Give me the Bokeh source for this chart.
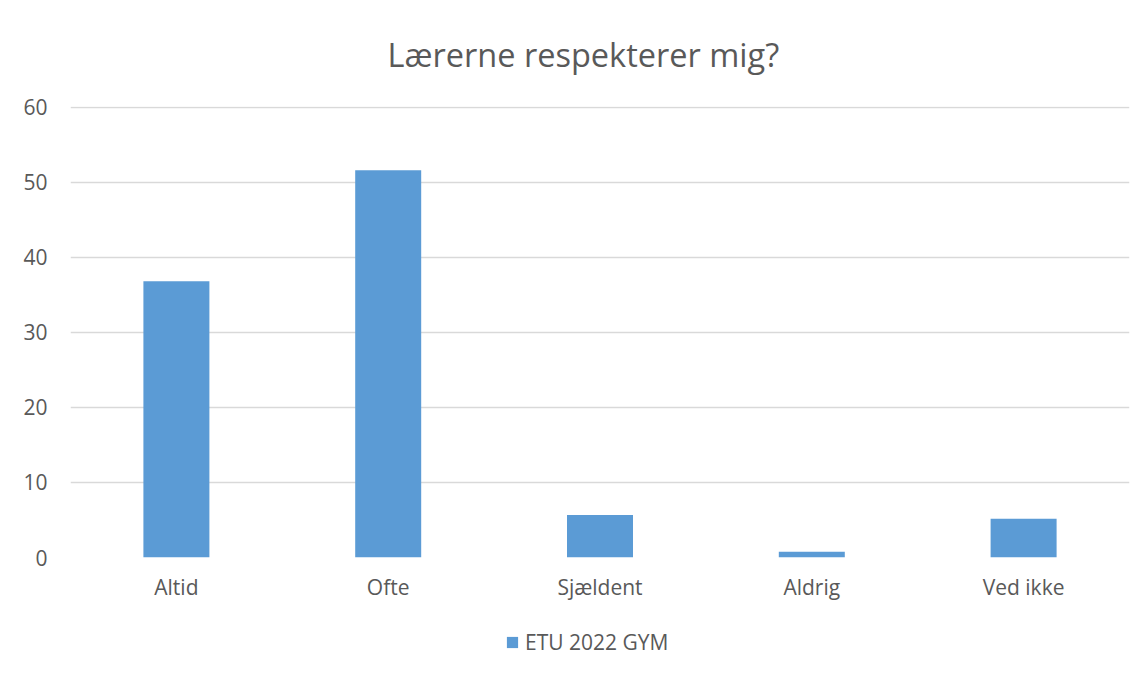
from bokeh.plotting import figure
from bokeh.layouts import column
from bokeh.models import (FactorRange, Range1d, Legend, LegendItem,
                          ColumnDataSource, FixedTicker)
from bokeh.embed import file_html
from bokeh.resources import INLINE

categories = ["Altid", "Ofte", "Sjældent", "Aldrig", "Ved ikke"]
values = [36.8, 51.6, 5.65, 0.75, 5.15]
series_name = "ETU 2022 GYM"
title_text = "Lærerne respekterer mig?"
y_ticks = [0, 10, 20, 30, 40, 50, 60]

TEXT = "#595959"
FONT = "Open Sans"
BAR = "#5B9BD5"
W = 1138

src = ColumnDataSource(dict(cat=categories, val=values))

p = figure(width=W, height=620,
           x_range=FactorRange(factors=categories, range_padding=0),
           y_range=Range1d(0, 60.1),
           output_backend="svg", toolbar_location=None,
           min_border_left=70, min_border_right=9,
           min_border_top=106, min_border_bottom=63)

p.title.text = title_text
p.title.align = "left"
p.title.offset = 317
p.title.vertical_align = "middle"
p.title.text_font = FONT
p.title.text_font_size = "32.5px"
p.title.text_font_style = "normal"
p.title.text_color = TEXT
p.title.standoff = 58

r = p.vbar(x="cat", top="val", width=0.3116, source=src,
           fill_color=BAR, line_color=None)

p.outline_line_color = None
p.background_fill_color = "white"
p.border_fill_color = "white"
p.xgrid.grid_line_color = None
p.ygrid.grid_line_color = "#d9d9d9"
p.ygrid.grid_line_width = 1.5
p.ygrid.ticker = FixedTicker(ticks=y_ticks)

p.yaxis.ticker = FixedTicker(ticks=y_ticks)
p.yaxis.axis_line_color = None
p.yaxis.major_tick_line_color = None
p.yaxis.minor_tick_line_color = None
p.yaxis.major_label_standoff = 17
p.yaxis.major_label_text_font = FONT
p.yaxis.major_label_text_font_size = "21px"
p.yaxis.major_label_text_color = TEXT

p.xaxis.axis_line_color = None
p.xaxis.major_tick_line_color = None
p.xaxis.minor_tick_line_color = None
p.xaxis.major_label_standoff = 9
p.xaxis.major_label_text_font = FONT
p.xaxis.major_label_text_font_size = "21px"
p.xaxis.major_label_text_color = TEXT

# legend strip below the chart (its series lies outside its visible range;
# only the legend entry is seen)
lf = figure(width=W, height=47,
            x_range=FactorRange(factors=categories, range_padding=0),
            y_range=Range1d(1000, 1001),
            output_backend="svg", toolbar_location=None,
            x_axis_type=None, y_axis_type=None, min_border=0)
lf.outline_line_color = None
lf.xgrid.grid_line_color = None
lf.ygrid.grid_line_color = None
lr = lf.vbar(x="cat", top="val", width=0, source=src,
             fill_color=BAR, line_color=None)
legend = Legend(items=[LegendItem(label=series_name, renderers=[lr])],
                location=(435, 11), orientation="horizontal",
                glyph_width=14, glyph_height=14, label_standoff=6,
                label_text_font=FONT, label_text_font_size="21px",
                label_text_color=TEXT, border_line_color=None,
                background_fill_alpha=0, padding=0, margin=0)
lf.add_layout(legend, "center")

layout = column(p, lf, spacing=0)
open("out.html", "w").write(file_html(layout, INLINE))
